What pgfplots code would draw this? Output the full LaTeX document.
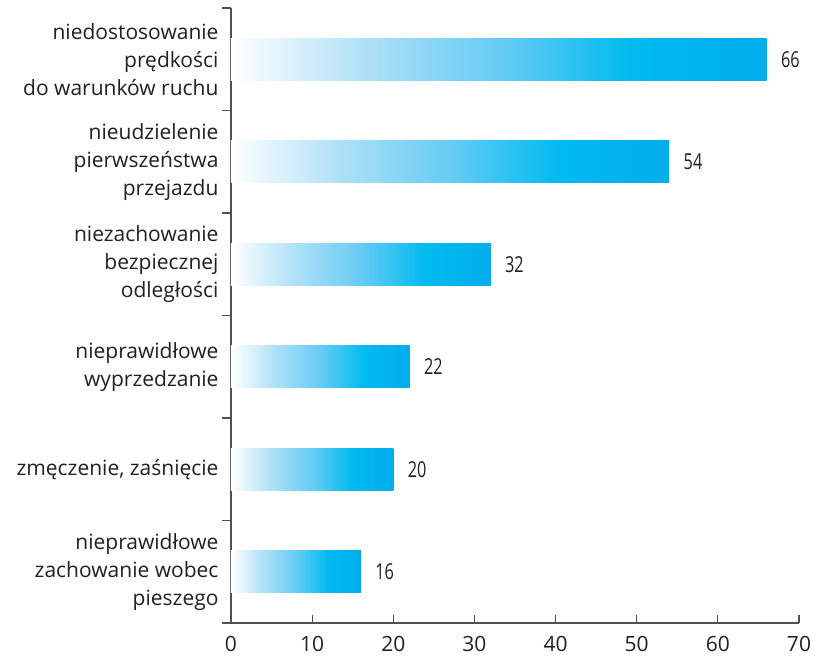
\documentclass[border=0pt]{standalone}
\usepackage{fontspec}
\setmainfont{Open Sans}
\newfontfamily\narrowfont[FakeStretch=0.74]{Open Sans}
\usepackage{pgfplots}
\pgfplotsset{compat=1.18}
\usetikzlibrary{calc}

\definecolor{axgray}{RGB}{80,80,80}
\definecolor{txt}{RGB}{35,31,32}

% white -> light blue -> cyan, mapped onto each bar (25bp..75bp = bar edges)
\pgfdeclarehorizontalshading{barshade}{100bp}{
    rgb(0bp)=(1,1,1); rgb(25bp)=(1,1,1);
    rgb(37.5bp)=(.68,.88,.97);
    rgb(50bp)=(.40,.80,.96);
    rgb(62.5bp)=(0,.73,.94);
    rgb(75bp)=(0,.68,.925); rgb(100bp)=(0,.68,.925)}

\begin{document}
\begin{tikzpicture}
\begin{axis}[
    name=ax,
    scale only axis,
    width=568bp, height=615bp,
    xbar,
    bar width=0.41,
    bar shift=0pt,
    xmin=0, xmax=70,
    ymin=0.5, ymax=6.5,
    axis x line*=bottom,
    axis y line*=left,
    axis line style={axgray, line width=1.2bp},
    xtick={0,10,...,70},
    ytick={1,...,6},
    yticklabels={
        {nieprawidłowe\\zachowanie wobec\\pieszego},
        {zmęczenie, zaśnięcie},
        {nieprawidłowe\\wyprzedzanie},
        {niezachowanie\\bezpiecznej\\odległości},
        {nieudzielenie\\pierwszeństwa\\przejazdu},
        {niedostosowanie\\prędkości\\do warunków ruchu}},
    minor ytick={0.5,1.5,...,6.5},
    tick align=inside,
    major tick length=7.5bp,
    minor tick length=9bp,
    every major y tick/.style={draw=none},
    every minor y tick/.append style={xshift=-9bp},
    tick style={axgray, line width=1.2bp},
    yticklabel style={align=right, font=\fontsize{21bp}{28bp}\selectfont, text=txt, xshift=-9bp},
    xticklabel style={font=\fontsize{21bp}{26bp}\selectfont, text=txt, yshift=-10bp},
    /pgf/number format/assume math mode=true,
    nodes near coords,
    every node near coord/.append style={font=\narrowfont\fontsize{22bp}{26bp}\selectfont, text=txt, xshift=11bp},
    barsty/.style={draw=none, shading=barshade},
]
\addplot[barsty] coordinates {(16,1)};
\addplot[barsty] coordinates {(20,2)};
\addplot[barsty] coordinates {(22,3)};
\addplot[barsty] coordinates {(32,4)};
\addplot[barsty] coordinates {(54,5)};
\addplot[barsty] coordinates {(66,6)};
\end{axis}
\pgfresetboundingbox
\path[use as bounding box] ($(ax.south west)+(-231bp,-36bp)$) rectangle ++(819bp,659bp);
\end{tikzpicture}
\end{document}
